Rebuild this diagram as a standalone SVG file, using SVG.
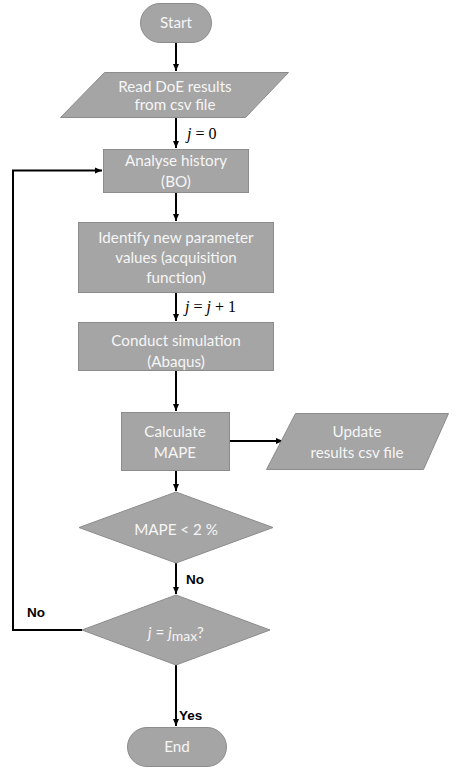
<svg xmlns="http://www.w3.org/2000/svg" width="460" height="773" viewBox="0 0 460 773">
<defs>
<marker id="arr" markerWidth="8" markerHeight="8" refX="7" refY="4" orient="auto" markerUnits="userSpaceOnUse">
<path d="M0,1 L7,4 L0,7 z" fill="#000"/>
</marker>
<style>
.shape{fill:#a5a5a5;stroke:#8c8c8c;stroke-width:1}
.t{font-family:Lato,"Liberation Sans",sans-serif;font-size:15.2px;fill:#f6f6f6;text-anchor:middle}
.c{fill:none;stroke:#000;stroke-width:2}
.lbl{font-family:"Liberation Sans",Arial,sans-serif;font-size:13.5px;font-weight:bold;fill:#000}
.m{font-family:"Liberation Serif","Times New Roman",serif;font-size:16px;fill:#000}
</style>
</defs>
<rect width="460" height="773" fill="#fff"/>
<g id="connectors">
<path class="c" d="M176,42 V71" marker-end="url(#arr)"/>
<path class="c" d="M176,118 V148" marker-end="url(#arr)"/>
<path class="c" d="M176,192 V221" marker-end="url(#arr)"/>
<path class="c" d="M176,292 V321" marker-end="url(#arr)"/>
<path class="c" d="M176,370 V411" marker-end="url(#arr)"/>
<path class="c" d="M229,441 H283" marker-end="url(#arr)"/>
<path class="c" d="M176,470 V491" marker-end="url(#arr)"/>
<path class="c" d="M176,563 V594" marker-end="url(#arr)"/>
<path class="c" d="M176,665 V726" marker-end="url(#arr)"/>
<path class="c" d="M82,630 H13 V170.5 H102" marker-end="url(#arr)"/>
<text class="m" x="187" y="139"><tspan font-style="italic">j</tspan> = 0</text>
<text class="m" x="185" y="312"><tspan font-style="italic">j</tspan> = <tspan font-style="italic">j</tspan> + 1</text>
<text class="lbl" x="186" y="584">No</text>
<text class="lbl" x="27" y="617">No</text>
<text class="lbl" x="179" y="720">Yes</text>
</g>
<g id="start">
<rect class="shape" x="140.5" y="3.5" width="71" height="39" rx="19.5"/>
<text class="t" x="176" y="28">Start</text>
</g>
<g id="read">
<polygon class="shape" points="104.5,72.5 288.5,72.5 245.5,117.5 60.5,117.5"/>
<text class="t" x="175" y="92">Read DoE results</text>
<text class="t" x="175" y="110">from csv file</text>
</g>
<g id="analyse">
<rect class="shape" x="103.5" y="149.5" width="145" height="43"/>
<text class="t" x="176" y="166">Analyse history</text>
<text class="t" x="176" y="187">(BO)</text>
</g>
<g id="identify">
<rect class="shape" x="78.5" y="222.5" width="195" height="70"/>
<text class="t" x="176" y="243">Identify new parameter</text>
<text class="t" x="176" y="263">values (acquisition</text>
<text class="t" x="176" y="283">function)</text>
</g>
<g id="conduct">
<rect class="shape" x="78.5" y="322.5" width="195" height="48"/>
<text class="t" x="176" y="346">Conduct simulation</text>
<text class="t" x="176" y="367">(Abaqus)</text>
</g>
<g id="calculate">
<rect class="shape" x="121.5" y="412.5" width="108" height="58"/>
<text class="t" x="175" y="437">Calculate</text>
<text class="t" x="175" y="458">MAPE</text>
</g>
<g id="update">
<polygon class="shape" points="295.5,413.5 448.5,413.5 423.5,469.5 266.5,469.5"/>
<text class="t" x="357" y="437">Update</text>
<text class="t" x="357" y="458">results csv file</text>
</g>
<g id="mape">
<polygon class="shape" points="176,492 273,527.5 176,563 79,527.5"/>
<text class="t" x="176" y="535">MAPE &lt; 2 %</text>
</g>
<g id="jmax">
<polygon class="shape" points="176,595 270,630 176,665 82,630"/>
<text class="t" x="176" y="638" font-size="18"><tspan font-style="italic">j</tspan> = <tspan font-style="italic">j</tspan><tspan font-size="14" dy="3">max</tspan><tspan dy="-3">?</tspan></text>
</g>
<g id="end">
<rect class="shape" x="127.5" y="727.5" width="99" height="39" rx="19.5"/>
<text class="t" x="177" y="752">End</text>
</g>
</svg>
